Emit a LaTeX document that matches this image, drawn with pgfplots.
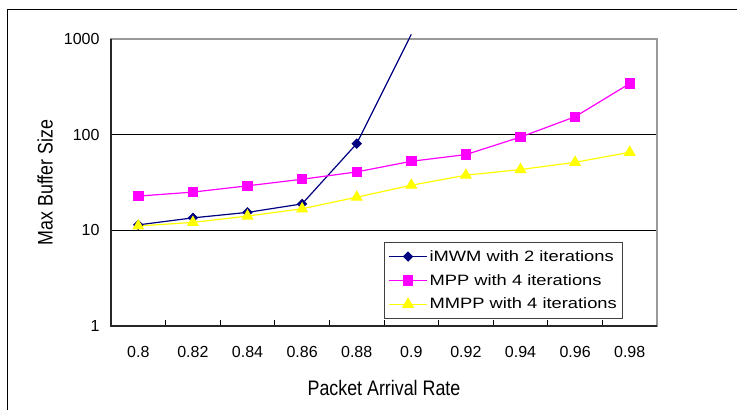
\documentclass[border=0pt]{standalone}
\usepackage{fontspec}
\setmainfont{Liberation Sans}
\usepackage{pgfplots}
\pgfplotsset{compat=1.18}
\definecolor{navyc}{RGB}{0,0,128}
\definecolor{magc}{RGB}{255,0,255}
\definecolor{yelc}{RGB}{255,255,0}
\newcommand{\leg}[1]{\scalebox{1.22}[1]{#1}}
\begin{document}
\begin{tikzpicture}[x=1pt,y=1pt]
\useasboundingbox (0,0) rectangle (737,410);
\draw[line width=1.8pt] (7.5,0) -- (7.5,400.5) -- (737,400.5);
\begin{axis}[
  at={(111pt,84pt)}, anchor=south west,
  scale only axis, width=546pt, height=287pt,
  xmin=-0.5, xmax=9.5,
  ymode=log, ymin=1, ymax=1000,
  clip=false,
  xtick={0,...,9},
  xticklabels={0.8,0.82,0.84,0.86,0.88,0.9,0.92,0.94,0.96,0.98},
  major x tick style={draw=none},
  minor xtick={-0.5,0.5,1.5,2.5,3.5,4.5,5.5,6.5,7.5,8.5,9.5},
  ytick={1,10,100,1000}, yticklabels={1,10,100,1000},
  yminorticks=false,
  xtick pos=bottom, ytick pos=left,
  ymajorgrids, grid style={black, line width=0.8pt},
  tick align=inside,
  major tick length=5pt, minor tick length=6pt,
  tick style={black, line width=0.8pt},
  axis line style={draw=black!40, line width=1.2pt},
  ticklabel style={font=\fontsize{16}{19}\selectfont},
  xticklabel style={yshift=-17pt},
  yticklabel style={xshift=-8pt},
  xlabel={\scalebox{0.85}[1]{\fontsize{21}{24}\selectfont Packet Arrival Rate}},
  ylabel={\scalebox{0.85}[1]{\fontsize{21}{24}\selectfont Max Buffer Size}},
  xlabel style={at={([yshift=-62pt]axis description cs:0.5,0)}, anchor=center},
  ylabel style={at={([xshift=-66pt]axis description cs:0,0.5)}, anchor=center},
  legend style={at={(axis description cs:0.5,0.293)}, anchor=north west,
    draw=black!75, line width=0.9pt, fill=white,
    font=\fontsize{15}{17}\selectfont,
    row sep=7.5pt, inner xsep=4pt, inner ysep=6pt, cells={anchor=west}},
  legend image code/.code={\draw[#1, mark repeat=2, mark phase=2] plot coordinates {(0pt,0pt) (19pt,0pt) (38pt,0pt)};},
]
\addplot[navyc, line width=1.2pt, forget plot] coordinates {(4,80.5) (5,1120)};
\addplot[navyc, line width=1.2pt, mark=square*, mark size=3.1pt, mark options={fill=navyc, draw=navyc, rotate=45}]
  coordinates {(0,11.4) (1,13.5) (2,15.4) (3,18.9) (4,80.5)};
\addlegendentry{\leg{iMWM with 2 iterations}}
\addplot[magc, line width=1.2pt, mark=square*, mark size=4.6pt, mark options={fill=magc, draw=magc}]
  coordinates {(0,22.8) (1,25.1) (2,29.2) (3,34.2) (4,40.8) (5,52.7) (6,61.9) (7,94.4) (8,154) (9,342)};
\addlegendentry{\leg{MPP with 4 iterations}}
\addplot[yelc, line width=1.2pt, mark=triangle*, mark size=5.8pt, mark options={fill=yelc, draw=yelc}]
  coordinates {(0,11.1) (1,12.1) (2,14.1) (3,16.8) (4,22.2) (5,29.6) (6,37.7) (7,43.2) (8,51.4) (9,65.4)};
\addlegendentry{\leg{MMPP with 4 iterations}}
\draw[black!85, line width=1.2pt] (rel axis cs:0,1) -- (rel axis cs:0,0) -- (rel axis cs:1,0);
\end{axis}
\end{tikzpicture}
\end{document}
